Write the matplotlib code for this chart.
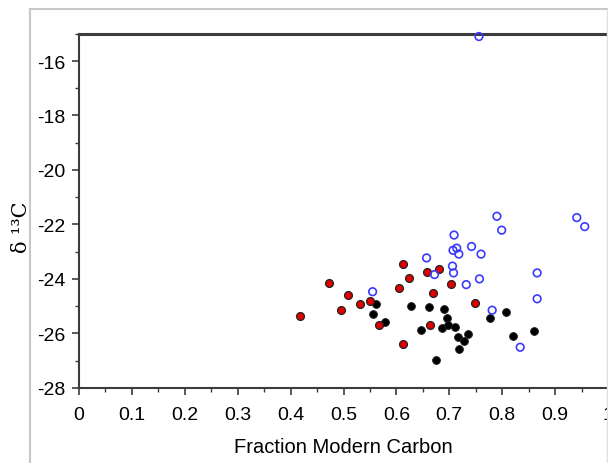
import matplotlib
matplotlib.use("Agg")
import matplotlib.pyplot as plt
from matplotlib.lines import Line2D
from matplotlib.ticker import MultipleLocator

# open blue circles
blue_x = [0.790, 0.941, 0.956, 0.799, 0.709, 0.742, 0.714, 0.707, 0.718, 0.760, 0.657,
          0.706, 0.708, 0.672, 0.866, 0.757, 0.732, 0.555, 0.866, 0.781, 0.834, 0.756]
blue_y = [-21.70, -21.75, -22.08, -22.21, -22.39, -22.81, -22.87, -22.95, -23.09, -23.09, -23.23,
          -23.53, -23.78, -23.84, -23.78, -24.00, -24.21, -24.47, -24.73, -25.15, -26.51, -15.10]

# red filled
red_x = [0.417, 0.473, 0.508, 0.495, 0.531, 0.550, 0.568, 0.604, 0.613, 0.624, 0.612,
         0.657, 0.681, 0.669, 0.663, 0.704, 0.749]
red_y = [-25.35, -24.16, -24.58, -25.16, -24.93, -24.80, -25.68, -24.33, -23.45, -23.96, -26.40,
         -23.73, -23.63, -24.52, -25.68, -24.19, -24.88]

# black filled
black_x = [0.561, 0.556, 0.579, 0.628, 0.661, 0.690, 0.696, 0.647, 0.687, 0.697,
           0.710, 0.716, 0.736, 0.728, 0.718, 0.675, 0.776, 0.807, 0.820, 0.861]
black_y = [-24.94, -25.30, -25.59, -24.98, -25.03, -25.10, -25.44, -25.86, -25.81, -25.71,
           -25.76, -26.13, -26.03, -26.29, -26.56, -26.97, -25.44, -25.22, -26.08, -25.91]

y_ticks = [-28, -26, -24, -22, -20, -18, -16]
x_ticks = [0, 0.1, 0.2, 0.3, 0.4, 0.5, 0.6, 0.7, 0.8, 0.9, 1]
x_labels = ["0", "0.1", "0.2", "0.3", "0.4", "0.5", "0.6", "0.7", "0.8", "0.9", "1"]

plt.rcParams["font.family"] = ["Liberation Sans", "DejaVu Sans"]
plt.rcParams["axes.unicode_minus"] = False

fig = plt.figure(figsize=(6.08, 4.64), dpi=100)
ax = fig.add_axes([0.130, 0.162, 0.870, 0.763])

# light gray frame around the plot area
fig.add_artist(Line2D([0.049, 0.049], [0, 0.978], transform=fig.transFigure, color="#c8c8c8", lw=1.5))
fig.add_artist(Line2D([0.049, 1.0], [0.978, 0.978], transform=fig.transFigure, color="#c8c8c8", lw=1.5))
fig.add_artist(Line2D([0.998, 0.998], [0, 0.978], transform=fig.transFigure, color="#e0e0e0", lw=1.0))

ax.scatter(black_x, black_y, s=32, c="black", edgecolors="#222222", linewidths=0.6, zorder=3)
ax.scatter(red_x, red_y, s=32, c="#e00000", edgecolors="#222222", linewidths=0.9, zorder=3)
ax.scatter(blue_x, blue_y, s=30, facecolors="none", edgecolors="#3a3aff", linewidths=1.2,
           zorder=4, clip_on=False)

ax.set_xlim(0, 1)
ax.set_ylim(-28, -15)
ax.set_xticks(x_ticks)
ax.set_xticklabels(x_labels)
ax.set_yticks(y_ticks)
ax.xaxis.set_minor_locator(MultipleLocator(0.05))
ax.yaxis.set_minor_locator(MultipleLocator(1))

ax.spines["right"].set_visible(False)
for s in ["left", "bottom", "top"]:
    ax.spines[s].set_color("#3c3c3c")
    ax.spines[s].set_linewidth(1.5)
ax.spines["top"].set_linewidth(2.2)

ax.tick_params(which="major", direction="out", length=5, width=1.2, color="#3c3c3c",
               labelsize=14)
ax.tick_params(which="minor", direction="out", length=3, width=1.0, color="#3c3c3c")
ax.tick_params(axis="x", which="major", pad=8)
ax.tick_params(axis="y", which="major", pad=5)

ax.set_xlabel("Fraction Modern Carbon", fontsize=14.5, labelpad=10)
ax.set_ylabel("δ ¹³C", fontsize=15, family=["DejaVu Serif"])
ax.yaxis.set_label_coords(-0.090, 0.455)

fig.savefig("out.png", dpi=100)
